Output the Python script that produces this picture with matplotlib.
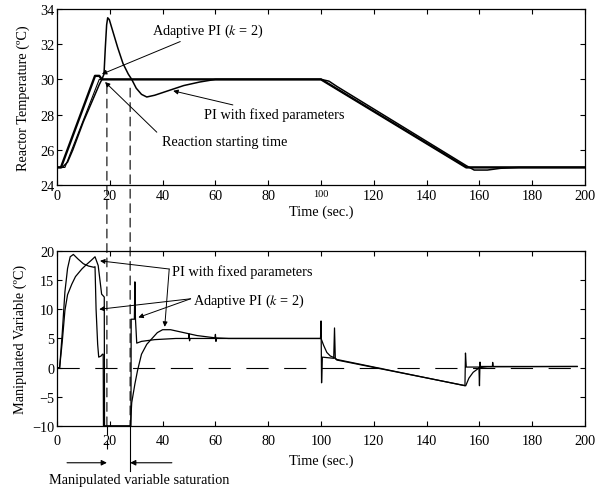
import matplotlib

matplotlib.use("Agg")

import matplotlib.pyplot as plt
from matplotlib.patches import ConnectionPatch

# reactor temperature (top panel)
t_ref = [0, 3, 16, 100, 155, 200]
temp_ref = [25, 25, 30, 30, 25, 25]

t_adapt = [0, 1.5, 14.4, 16, 17, 100, 155, 200]
temp_adapt = [25, 25, 30.2, 30.2, 30, 30, 25, 25]

t_fixed = [0, 2, 4, 6, 8, 10, 12, 14, 16, 17, 17.8, 18.3, 18.8, 19.2, 19.8, 21, 23, 25, 27,
           28.3, 30, 32, 34, 37, 40, 44, 48, 54, 60, 100, 103, 106, 155, 158, 163, 168, 175, 200]
temp_fixed = [25, 25, 25.3, 26.0, 26.8, 27.6, 28.3, 29.0, 29.7, 30.0, 30.3, 31.8, 33.1, 33.5, 33.4,
              32.8, 31.8, 30.9, 30.3, 30.0, 29.5, 29.15, 29.0, 29.1, 29.25, 29.45, 29.65, 29.85, 30.0,
              30.0, 29.9, 29.6, 25.1, 24.85, 24.85, 24.95, 25.0, 25.0]

# manipulated variable (bottom panel)
t_mv_adapt = [0, 1, 2, 3, 4, 5, 6.2, 8, 10, 12, 14, 14.4, 14.8, 15.4, 15.8, 16.7, 17.2, 17.5, 17.6,
              28, 28.1, 29.3, 29.5, 29.7, 30.2, 32, 37, 45, 49.8, 50, 50.2, 50.4, 59.8, 60, 60.2, 60.4,
              99.8, 100, 100.2, 100.5, 104.8, 105.1, 105.4, 106, 154.5, 154.7, 155, 159.8, 160, 160.2,
              160.4, 164.9, 165, 165.2, 197]
mv_adapt = [0, 0, 6, 13, 17, 19, 19.4, 18.6, 17.8, 17.4, 17.2, 17.3, 10, 4, 1.8, 2.0, 2.3, 2.3, -10,
            -10, 8.3, 8.3, 14.7, 8.5, 4.2, 4.5, 4.8, 5.0, 5.0, 5.8, 4.6, 5.0, 5.0, 5.7, 4.5, 5.0,
            5.0, 8.0, -2.6, 1.8, 1.6, 6.8, 1.6, 1.4, -3.1, 2.5, 0.1, 0.1, -3.1, 0.95, 0.2,
            0.2, 0.9, 0.2, 0.2]

t_mv_fixed = [0, 1, 2, 3, 4, 5.6, 7, 9.4, 11, 13, 14.4, 15.6, 16.9, 17.9, 18.0, 27.8, 28.3, 29.5,
              30.5, 32, 34, 36, 38, 40, 43, 48, 53, 60, 65, 100, 101, 102.2, 103.5, 105, 106,
              154.8, 156, 157.6, 160, 163, 197]
mv_fixed = [0, 0, 4.5, 9.8, 12.5, 14.3, 15.6, 16.9, 17.6, 18.4, 19.0, 17.5, 12.6, 12.1, -10, -10,
            -6, -2.8, -0.5, 2.3, 4.0, 5.0, 6.0, 6.5, 6.5, 6.0, 5.5, 5.1, 5.0, 5.0, 3.8, 2.6, 2.0,
            1.7, 1.3, -3.1, -1.8, -0.8, 0.0, 0.15, 0.2]

t_zero = [0, 200]
mv_zero = [0, 0]

# saturation window of the manipulated variable
sat_start = 18.9
sat_end = 27.7

x_ticks = list(range(0, 201, 20))
temp_ticks = list(range(24, 35, 2))
mv_ticks = list(range(-10, 21, 5))

plt.rcParams["font.family"] = ["Liberation Serif", "DejaVu Serif"]
plt.rcParams["mathtext.fontset"] = "stix"
plt.rcParams["font.size"] = 10.3
plt.rcParams["axes.linewidth"] = 0.9
plt.rcParams["xtick.direction"] = "in"
plt.rcParams["ytick.direction"] = "in"
plt.rcParams["xtick.top"] = True
plt.rcParams["ytick.right"] = True


def style_axis(ax, yticks, ylim, xpad):
    ax.set_xlim(0, 200)
    ax.set_ylim(*ylim)
    ax.set_xticks(x_ticks)
    ax.set_yticks(yticks)
    ax.tick_params(pad=2, length=3.5, width=0.8)
    ax.tick_params(axis="x", pad=xpad)


fig = plt.figure(figsize=(6.07, 4.89), dpi=100)
ax1 = fig.add_axes([0.0939, 0.6196, 0.870, 0.360])
ax2 = fig.add_axes([0.0939, 0.1268, 0.870, 0.358])

# top panel
ax1.plot(t_ref, temp_ref, color="black", lw=0.8)
ax1.plot(t_fixed, temp_fixed, color="black", lw=1.1)
ax1.plot(t_adapt, temp_adapt, color="black", lw=1.7)
style_axis(ax1, temp_ticks, (24, 34), 3)
ax1.set_ylabel("Reactor Temperature (ºC)", labelpad=7)
ax1.set_xlabel("Time (sec.)", labelpad=1.5)
for lab in ax1.get_xticklabels():
    if lab.get_text() == "100":
        lab.set_fontsize(7.5)

arrow = dict(arrowstyle="-|>", color="black", lw=0.7, mutation_scale=7, shrinkA=0, shrinkB=0)
ax1.annotate("Adaptive PI ($k$ = 2)", xy=(17, 30.3), xytext=(36, 32.8), va="center", ha="left",
             arrowprops=arrow)
ax1.annotate("", xy=(18.2, 29.85), xytext=(37.8, 27.0), arrowprops=arrow)
ax1.text(39.8, 26.5, "Reaction starting time", va="center", ha="left")
ax1.annotate("PI with fixed parameters", xy=(44, 29.35), xytext=(55.5, 28.0), va="center",
             ha="left", arrowprops=arrow)

# bottom panel
ax2.plot(t_zero, mv_zero, color="black", lw=0.8, ls=(0, (20, 14)))
ax2.plot(t_mv_fixed, mv_fixed, color="black", lw=0.9)
ax2.plot(t_mv_adapt, mv_adapt, color="black", lw=0.9)
style_axis(ax2, mv_ticks, (-10, 20), 5.5)
ax2.set_ylabel("Manipulated Variable (ºC)", labelpad=4)
ax2.set_xlabel("Time (sec.)", labelpad=5)

ax2.text(43.5, 16.6, "PI with fixed parameters", va="center", ha="left")
ax2.annotate("", xy=(16.3, 18.3), xytext=(42.5, 16.9), arrowprops=arrow)
ax2.annotate("", xy=(40.8, 7.0), xytext=(42.5, 16.9), arrowprops=arrow)
ax2.text(51.6, 11.6, "Adaptive PI ($k$ = 2)", va="center", ha="left")
ax2.annotate("", xy=(16.0, 10.0), xytext=(50.6, 11.8), arrowprops=arrow)
ax2.annotate("", xy=(30.8, 8.6), xytext=(50.6, 11.8), arrowprops=arrow)

# saturation markers running across both panels
for tx, top in [(sat_start, 29.7), (sat_end, 29.5)]:
    con = ConnectionPatch(xyA=(tx, top), coordsA=ax1.transData, xyB=(tx, -10),
                          coordsB=ax2.transData, color="black", lw=0.8, ls=(0, (8, 5)))
    fig.add_artist(con)
ax2.plot([sat_start, sat_start], [-10, -14], color="black", lw=0.8, ls=(0, (8, 5)), clip_on=False)
ax2.plot([sat_end, sat_end], [-10, -17.7], color="black", lw=0.8, clip_on=False)

arrow2 = dict(arrowstyle="-|>", color="black", lw=0.8, mutation_scale=8, shrinkA=0, shrinkB=0)
ax2.annotate("", xy=(sat_start, -16.3), xytext=(3.8, -16.3), arrowprops=arrow2,
             annotation_clip=False)
ax2.annotate("", xy=(sat_end, -16.3), xytext=(43.5, -16.3), arrowprops=arrow2,
             annotation_clip=False)
ax2.text(31, -19.1, "Manipulated variable saturation", va="center", ha="center")

fig.savefig("out.png", dpi=100)
